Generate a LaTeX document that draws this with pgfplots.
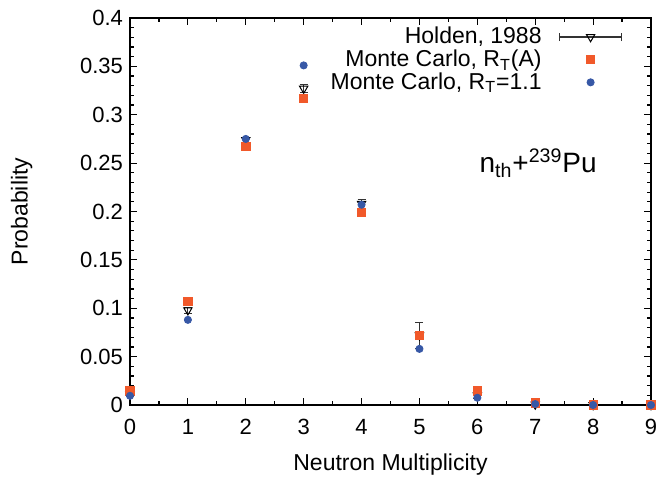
\documentclass[border=0pt]{standalone}
\usepackage{fontspec}
\setmainfont{Liberation Sans}
\usepackage{pgfplots}
\pgfplotsset{compat=1.18}
\definecolor{mcorange}{RGB}{241,89,42}
\definecolor{mcblue}{RGB}{55,88,166}
\begin{document}
\begin{tikzpicture}
\begin{axis}[
  scale only axis, width=260.5pt, height=193.5pt,
  xmin=0, xmax=9, ymin=0, ymax=0.4,
  xtick={0,...,9}, minor x tick num=1,
  ytick={0,0.05,...,0.4}, minor y tick num=4,
  tick align=inside, major tick length=3.5pt, minor tick length=1.8pt,
  every tick/.style={black, line width=0.6pt},
  axis line style={line width=0.8pt},
  /pgf/number format/assume math mode=true,
  yticklabel style={/pgf/number format/fixed, /pgf/number format/precision=2},
  xticklabel style={yshift=-3.5pt},
  tick label style={font=\fontsize{11}{13}\selectfont},
  xlabel={Neutron Multiplicity}, ylabel={Probability},
  label style={font=\fontsize{11.5}{13}\selectfont},
  xlabel style={at={(axis description cs:0.5,-0.155)}, anchor=center},
  ylabel style={at={(axis description cs:-0.208,0.5)}, anchor=center},
  legend style={at={(rel axis cs:0.957,0.998)}, anchor=north east, draw=none, fill=none,
    font=\fontsize{11.5}{12.5}\selectfont, row sep=-2.5pt},
  legend cell align=right, legend plot pos=right,
  clip=false,
]
\coordinate (bl) at (rel axis cs:0,0);
\coordinate (tr) at (rel axis cs:1,1);
\addplot[only marks, mark=triangle, mark size=2.4pt, mark options={rotate=180, black, fill=white, line width=0.5pt},
  black!80, forget plot, error bars/.cd, y dir=both, y explicit, error bar style={line width=0.6pt}, error mark options={rotate=90, mark size=2pt}]
  coordinates {
  (0,0.011) +- (0,0.002)
  (1,0.098) +- (0,0.003)
  (2,0.274) +- (0,0.003)
  (3,0.327) +- (0,0.004)
  (4,0.208) +- (0,0.005)
  (5,0.072) +- (0,0.013)
  (6,0.010) +- (0,0.003)
  (7,0.0006) +- (0,0.001)
  (8,0.0) +- (0,0.0)
  (9,0.0) +- (0,0.0)
  };
\addlegendimage{legend image code/.code={
  \path[draw=none, fill=none] (0pt,-3pt) rectangle (38pt,3pt);
  \draw[black!80, line width=0.6pt] (7pt,0pt) -- (38pt,0pt);
  \draw[black!80, line width=0.6pt] (7pt,-2pt) -- (7pt,2pt);
  \draw[black!80, line width=0.6pt] (38pt,-2pt) -- (38pt,2pt);
  \draw[black, fill=white, line width=0.5pt] plot[mark=triangle, mark size=2.4pt, mark options={rotate=180}] coordinates {(22.5pt,0pt)};}}
\addlegendentry{Holden, 1988}
\addplot[only marks, mark=square*, mark size=2.1pt, mcorange, forget plot]
  coordinates {(0,0.0145) (1,0.107) (2,0.267) (3,0.317) (4,0.199) (5,0.072) (6,0.0145) (7,0.002) (8,0.0) (9,0.0)};
\addlegendimage{mark=square*, mark size=2.1pt, mcorange, legend image code/.code={
  \path[draw=none, fill=none] (0pt,-3pt) rectangle (38pt,3pt);
  \path plot[only marks] coordinates {(22.5pt,0pt)};}}
\addlegendentry{Monte Carlo, R\textsubscript{T}(A)}
\addplot[only marks, mark=*, mark size=1.8pt, mcblue, forget plot]
  coordinates {(0,0.0095) (1,0.088) (2,0.275) (3,0.351) (4,0.207) (5,0.058) (6,0.0075) (7,0.001) (8,0.0) (9,0.0)};
\addlegendimage{mark=*, mark size=1.8pt, mcblue, legend image code/.code={
  \path[draw=none, fill=none] (0pt,-3pt) rectangle (38pt,3pt);
  \path plot[only marks] coordinates {(22.5pt,0pt)};}}
\addlegendentry{Monte Carlo, R\textsubscript{T}=1.1}
\node[font=\fontsize{14}{16}\selectfont] at (axis cs:7.05,0.25) {n\textsubscript{th}+\textsuperscript{239}Pu};
\end{axis}
\pgfresetboundingbox
\path ([shift={(-65pt,-35.5pt)}]bl) rectangle ([shift={(3pt,9pt)}]tr);
\end{tikzpicture}
\end{document}
